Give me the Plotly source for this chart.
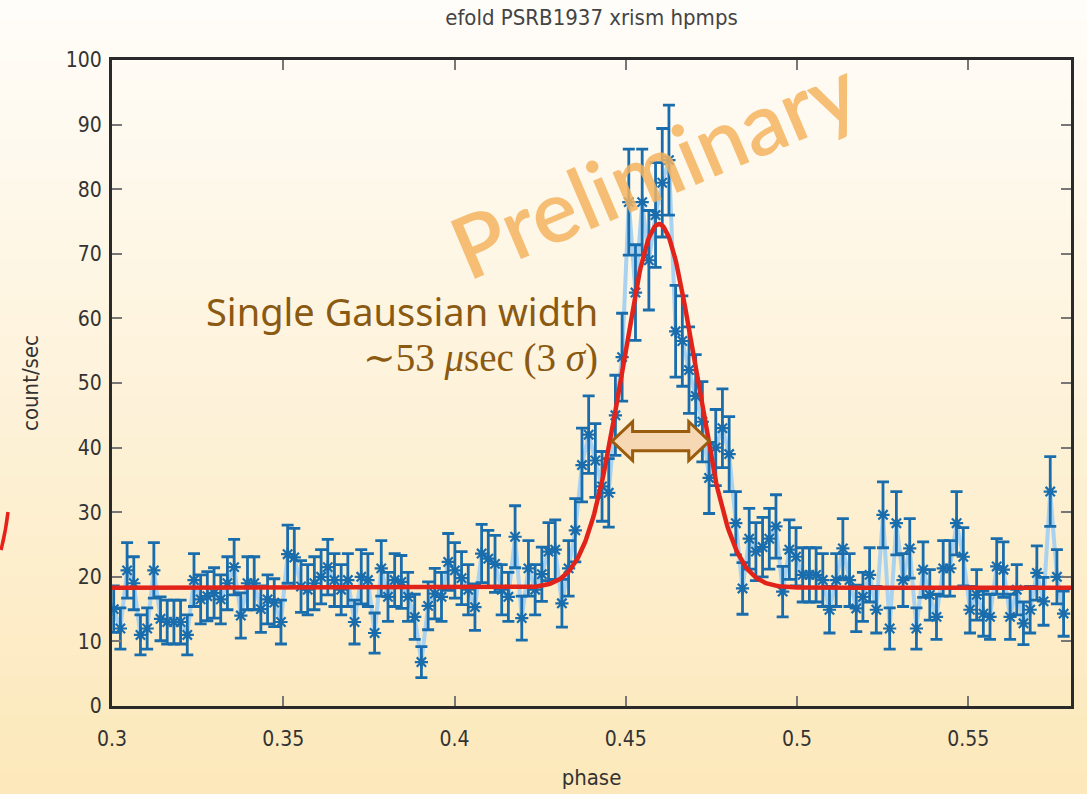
import math
import plotly.graph_objects as go

# ---------------- data ----------------
NBINS = 512
PHASE_START = 0.3005
count_rate = [
    15.0, 12.0, 21.0, 19.0, 11.0, 12.0, 21.0, 13.5, 13.0, 13.0,
    13.0, 11.0, 19.5, 16.5, 17.0, 17.5, 16.5, 19.0, 21.5, 14.0,
    19.0, 19.0, 15.0, 16.5, 16.0, 13.0, 23.5, 23.0, 18.5, 18.0,
    19.0, 20.0, 21.5, 19.5, 18.0, 19.5, 13.0, 20.0, 19.5, 11.3,
    21.3, 16.9, 19.5, 19.2, 16.9, 13.8, 6.8, 15.5, 17.4, 16.9,
    22.3, 21.0, 19.8, 18.0, 15.3, 23.6, 22.8, 22.0, 18.0, 16.9,
    26.2, 13.6, 21.3, 18.0, 20.4, 23.9, 24.2, 15.9, 21.3, 27.2,
    37.3, 42.0, 38.0, 34.0, 33.0, 45.0, 54.0, 78.0, 64.0, 78.0,
    69.0, 76.0, 81.0, 84.5, 58.0, 56.5, 52.0, 48.0, 44.0, 35.3,
    40.0, 43.0, 39.0, 28.3, 18.2, 25.9, 23.9, 24.6, 25.9, 27.8,
    17.7, 24.2, 23.1, 20.3, 20.3, 20.3, 19.5, 14.9, 19.5, 24.4,
    19.5, 15.1, 16.9, 20.3, 14.9, 29.6, 12.0, 28.3, 19.5, 24.4,
    12.0, 21.1, 17.2, 13.8, 21.3, 21.3, 28.3, 23.1, 14.9, 17.2,
    14.3, 13.8, 21.6, 21.1, 13.8, 18.0, 12.8, 14.9, 20.6, 16.2,
    33.2, 20.0, 14.3,
]
count_err = [
    3.6, 3.2, 4.3, 4.1, 3.1, 3.2, 4.3, 3.4, 3.4, 3.4,
    3.4, 3.1, 4.1, 3.8, 3.8, 3.9, 3.8, 4.1, 4.3, 3.5,
    4.1, 4.1, 3.6, 3.8, 3.7, 3.4, 4.5, 4.5, 4.0, 3.9,
    4.1, 4.2, 4.3, 4.1, 3.9, 4.1, 3.4, 4.2, 4.1, 3.1,
    4.3, 3.8, 4.1, 4.1, 3.8, 3.5, 2.4, 3.7, 3.9, 3.8,
    4.4, 4.3, 4.1, 3.9, 3.6, 4.5, 4.4, 4.4, 3.9, 3.8,
    4.8, 3.4, 4.3, 3.9, 4.2, 4.5, 4.6, 3.7, 4.3, 4.9,
    5.7, 6.0, 5.7, 5.4, 5.3, 6.2, 6.8, 8.2, 7.4, 8.2,
    7.7, 8.1, 8.4, 8.5, 7.1, 7.0, 6.7, 6.4, 6.2, 5.5,
    5.9, 6.1, 5.8, 4.9, 4.0, 4.7, 4.5, 4.6, 4.7, 4.9,
    3.9, 4.6, 4.5, 4.2, 4.2, 4.2, 4.1, 3.6, 4.1, 4.6,
    4.1, 3.6, 3.8, 4.2, 3.6, 5.1, 3.2, 4.9, 4.1, 4.6,
    3.2, 4.3, 3.9, 3.5, 4.3, 4.3, 4.9, 4.5, 3.6, 3.9,
    3.5, 3.5, 4.3, 4.3, 3.5, 3.9, 3.3, 3.6, 4.2, 3.7,
    5.4, 4.2, 3.5,
]
# phase bins of the folded light curve (1/NBINS wide)
phase = [round(PHASE_START + k / NBINS, 5) for k in range(len(count_rate))]

# Gaussian fit parameters
fit_base = 18.3
fit_amp = 56.3
fit_center = 0.4597
fit_sigma = 0.0106

x_ticks = [0.3, 0.35, 0.4, 0.45, 0.5, 0.55]
x_tick_text = ["0.3", "0.35", "0.4", "0.45", "0.5", "0.55"]
y_ticks = [0, 10, 20, 30, 40, 50, 60, 70, 80, 90, 100]

# arrow annotation geometry (data units)
arrow_x0, arrow_x1, arrow_y = 0.4460, 0.4744, 41.0

# ---------------- figure ----------------
fit_x = [0.3 + i * 0.28 / 700 for i in range(701)]
fit_y = [fit_base + fit_amp * math.exp(-0.5 * ((x - fit_center) / fit_sigma) ** 2) for x in fit_x]

fig = go.Figure()

fig.add_trace(go.Scatter(
    x=phase, y=count_rate, mode="lines",
    line=dict(color="#a9d2f0", width=4),
    hoverinfo="skip", showlegend=False,
))
fig.add_trace(go.Scatter(
    x=phase, y=count_rate, mode="markers",
    marker=dict(symbol="asterisk-open", size=11, color="#1a6dac",
                line=dict(color="#1a6dac", width=2.2)),
    error_y=dict(type="data", array=count_err, visible=True,
                 color="#1a6dac", thickness=2.8, width=6),
    showlegend=False,
))
fig.add_trace(go.Scatter(
    x=fit_x, y=fit_y, mode="lines",
    line=dict(color="#e2231a", width=4.5),
    showlegend=False,
))

# background gradient bands (paper coords, extend over whole page)
shapes = []
L, R, T, B = 112, 16, 60, 88
W, H = 1087, 794
pw, ph = W - L - R, H - T - B
nb = 40
c_top = (255, 253, 249)
c_bot = (252, 232, 186)
for i in range(nb):
    f = i / (nb - 1)
    col = tuple(int(round(c_top[j] + (c_bot[j] - c_top[j]) * f)) for j in range(3))
    py0 = H * i / nb
    py1 = H * (i + 1) / nb + 1
    shapes.append(dict(
        type="rect", xref="paper", yref="paper", layer="below",
        x0=(0 - L) / pw, x1=(W - L) / pw,
        y0=(H - B - py1) / ph, y1=(H - B - py0) / ph,
        fillcolor="rgb(%d,%d,%d)" % col, line=dict(width=0),
    ))

# double arrow
hl = 0.0060  # head length in phase
sh = 1.5     # shaft half height
hh = 3.0     # head half height
path = (
    f"M {arrow_x0},{arrow_y} "
    f"L {arrow_x0 + hl},{arrow_y + hh} L {arrow_x0 + hl},{arrow_y + sh} "
    f"L {arrow_x1 - hl},{arrow_y + sh} L {arrow_x1 - hl},{arrow_y + hh} "
    f"L {arrow_x1},{arrow_y} "
    f"L {arrow_x1 - hl},{arrow_y - hh} L {arrow_x1 - hl},{arrow_y - sh} "
    f"L {arrow_x0 + hl},{arrow_y - sh} L {arrow_x0 + hl},{arrow_y - hh} Z"
)
shapes.append(dict(type="path", xref="x", yref="y", path=path, layer="above",
                   fillcolor="#f7d8b4", line=dict(color="#9a5c0e", width=3)))

# small red stroke at left page edge
shapes.append(dict(type="path", xref="paper", yref="paper", layer="above",
                   path=f"M {(8 - L) / pw},{(H - B - 512) / ph} "
                        f"Q {(6 - L) / pw},{(H - B - 530) / ph} {(1 - L) / pw},{(H - B - 550) / ph}",
                   line=dict(color="#e8201a", width=3.5)))

LABEL_FONT = "DejaVu Sans Condensed, Liberation Sans Narrow, sans-serif"
NOTE_FONT = "Noto Sans, DejaVu Sans, sans-serif"
MATH_FONT = "Liberation Serif, DejaVu Serif, serif"

fig.update_layout(
    width=W, height=H,
    margin=dict(l=L, r=R, t=T, b=B),
    paper_bgcolor="white",
    plot_bgcolor="rgba(0,0,0,0)",
    shapes=shapes,
    font=dict(family=LABEL_FONT, color="#333333"),
    title=dict(text="efold PSRB1937 xrism hpmps", x=0.5, xref="paper", xanchor="center",
               y=1 - 17 / H, yanchor="middle",
               font=dict(size=22, color="#444444")),
    annotations=[
        dict(text="Preliminary", x=0.4580, y=83.5, xref="x", yref="y",
             showarrow=False, textangle=-23,
             font=dict(family="Lato, Noto Sans, sans-serif", size=86,
                       color="rgba(244,180,95,0.85)", weight=600)),
        dict(text="Single Gaussian width", x=0.4424, y=61.2, xref="x", yref="y",
             xanchor="right", yanchor="middle", showarrow=False,
             font=dict(family=NOTE_FONT, size=38, color="#8b5a12")),
        dict(text="∼53 <i>μ</i>sec (3 <i>σ</i>)", x=0.4424, y=53.8, xref="x", yref="y",
             xanchor="right", yanchor="middle", showarrow=False,
             font=dict(family=MATH_FONT, size=39, color="#8b5a12")),
    ],
)

fig.update_xaxes(
    range=[0.3, 0.58], tickvals=x_ticks, ticktext=x_tick_text,
    showgrid=False, zeroline=False, automargin=False,
    showline=True, linecolor="#2a2a2a", linewidth=3, mirror="ticks",
    ticks="inside", ticklen=10, tickwidth=2, tickcolor="#777777",
    tickfont=dict(size=21, color="#333333"), ticklabelstandoff=12,
    title=dict(text="phase", font=dict(size=22, color="#333333"), standoff=20),
)
fig.update_yaxes(
    range=[0, 100], tickvals=y_ticks,
    showgrid=False, zeroline=False, automargin=False,
    showline=True, linecolor="#2a2a2a", linewidth=3, mirror="ticks",
    ticks="inside", ticklen=10, tickwidth=2, tickcolor="#777777",
    tickfont=dict(size=21, color="#333333"), ticklabelstandoff=3,
    title=dict(text="count/sec", font=dict(size=22, color="#333333"), standoff=22),
)

fig.write_html("out.html", config={"displayModeBar": False},
               post_script="document.body.style.margin='0';document.body.style.overflow='hidden';")
